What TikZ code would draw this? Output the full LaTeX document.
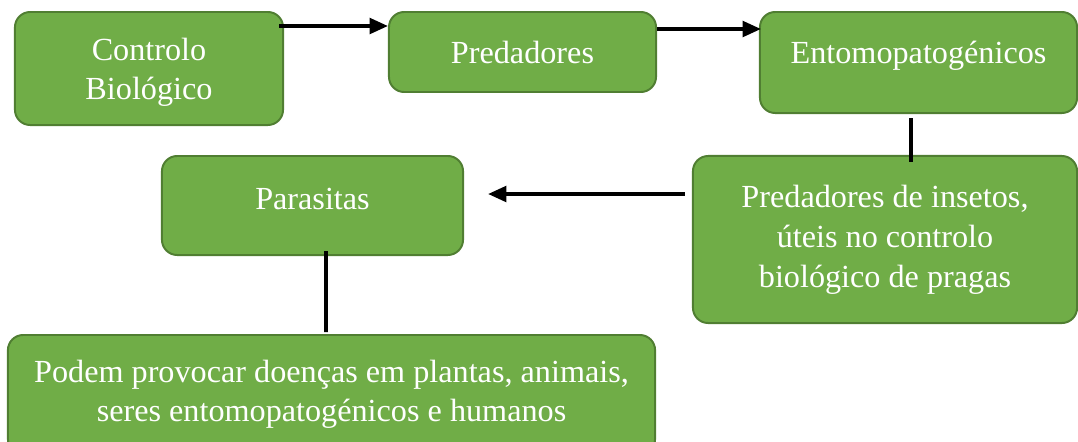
\documentclass[tikz,border=0pt]{standalone}
\usepackage{fontspec}
\setmainfont{Liberation Serif}
\usetikzlibrary{calc}
\usetikzlibrary{arrows.meta}
\definecolor{boxfill}{HTML}{70AD47}
\definecolor{boxedge}{HTML}{507E32}

\begin{document}
\begin{tikzpicture}
        [
        x=0.025cm, y=-0.025cm,
        box/.style={draw=boxedge,fill=boxfill,line width=1.4pt,rounded corners=0.38cm,
                text=white,align=center,inner sep=0pt,
                font=\fontsize{22.9}{27.5}\selectfont},
        link/.style={line width=2.6pt},
        >={Triangle[length=13pt,width=11pt]}
        ]
        \useasboundingbox (0,0) rectangle (1078,441);

        \node[box,minimum width=6.7cm,minimum height=2.825cm,text height=1.7cm] (ctrl) at (149,68.5) {Controlo\\Biológico};
        \node[box,minimum width=6.675cm,minimum height=2cm] (pred) at (522.5,52) {Predadores};
        \node[box,minimum width=7.925cm,minimum height=2.525cm,text depth=0.53cm] (ento) at (918.5,62.5) {Entomopatogénicos};
        \node[box,minimum width=7.525cm,minimum height=2.475cm,text depth=0.35cm] (para) at (312.5,205.5) {Parasitas};
        \node[box,minimum width=9.6cm,minimum height=4.175cm,font=\fontsize{22.9}{28.5}\selectfont] (insect) at (885,239.5)
                {Predadores de insetos,\\úteis no controlo\\biológico de pragas};
        \node[box,minimum width=16.175cm,minimum height=2.975cm] (podem) at (331.5,394.5)
                {Podem provocar doenças em plantas, animais,\\seres entomopatogénicos e humanos};

        \draw[link,->] ($(ctrl.north east)+(-5,15)$) -- ($(pred.north west)+(0,15)$);
        \draw[link,->] ($(pred.north east)+(0,18)$) -- ($(ento.north west)+(2,18)$);
        \draw[link] ($(ento.south)+(-7.5,4)$) -- ($(insect.north)+(26,7)$);
        \draw[link,->] ($(insect.north west)+(-7,39)$) -- ($(para.north east)+(24,39)$);
        \draw[link] ($(para.south)+(13.5,-5)$) -- ($(podem.north)+(-5.5,-2)$);
\end{tikzpicture}
\end{document}
